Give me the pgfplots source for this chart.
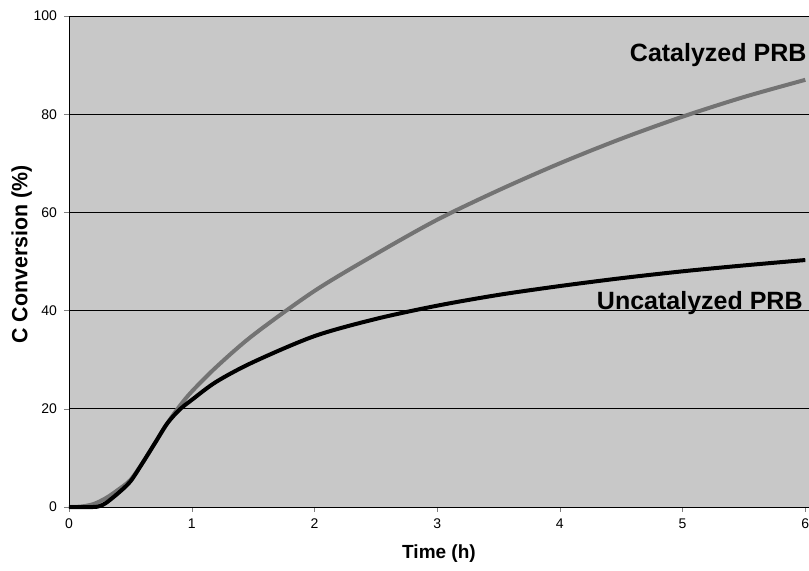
\documentclass[border=0pt]{standalone}
\usepackage{fontspec}
\setmainfont{Liberation Sans}
\usepackage{pgfplots}
\pgfplotsset{compat=1.18}
\definecolor{bggray}{RGB}{200,200,200}
\definecolor{catgray}{RGB}{115,115,115}
\begin{document}
\begin{tikzpicture}
\begin{axis}[
  scale only axis,
  width=370pt, height=245.5pt,
  at={(0,0)}, anchor=origin,
  xmin=0, xmax=6.03, ymin=0, ymax=100,
  axis lines=left,
  axis line style={-, thin},
  axis background/.style={fill=bggray},
  xtick={0,...,6}, ytick={0,20,...,100},
  tick align=outside,
  major tick length=2.5pt,
  ymajorgrids,
  grid style={black, thin},
  tick label style={font=\fontsize{7}{8}\selectfont},
  /pgf/number format/assume math mode=true,
  xlabel={\textbf{Time (h)}},
  ylabel={\scalebox{0.97}[1]{\textbf{C Conversion (\%)}}},
  label style={font=\fontsize{9.5}{11}\selectfont},
  xlabel style={yshift=-1pt},
  ylabel style={font=\fontsize{11}{12}\selectfont, yshift=-6pt, xshift=3.5pt},
  clip=false,
]
\addplot[catgray, line width=2pt, smooth] coordinates {
  (0,0) (0.1,0.1) (0.2,0.6) (0.3,1.8) (0.4,3.5) (0.5,5.5) (0.6,9) (0.7,13)
  (0.8,17) (0.9,20.5) (1,23.5) (1.2,28.5) (1.5,35) (2,44) (2.5,51.5)
  (3,58.5) (3.5,64.5) (4,70) (4.5,75) (5,79.5) (5.5,83.5) (6,87)};
\addplot[black, line width=2pt, smooth] coordinates {
  (0,0) (0.2,0) (0.25,0.2) (0.3,0.8) (0.4,2.8) (0.5,5.2) (0.6,9) (0.7,13)
  (0.8,17) (0.9,19.8) (1,21.8) (1.2,25.5) (1.5,29.5) (2,34.8) (2.5,38.3)
  (3,41) (3.5,43.2) (4,45) (4.5,46.6) (5,48) (5.5,49.2) (6,50.3)};
\node[font=\bfseries\fontsize{12.5}{14}\selectfont] at (axis cs:5.29,92) {Catalyzed PRB};
\node[font=\bfseries\fontsize{12.5}{14}\selectfont] at (axis cs:5.14,41.5) {Uncatalyzed PRB};
\end{axis}
\pgfresetboundingbox
\path[use as bounding box] (-34.5pt,-32pt) rectangle (370pt,253.5pt);
\end{tikzpicture}
\end{document}
